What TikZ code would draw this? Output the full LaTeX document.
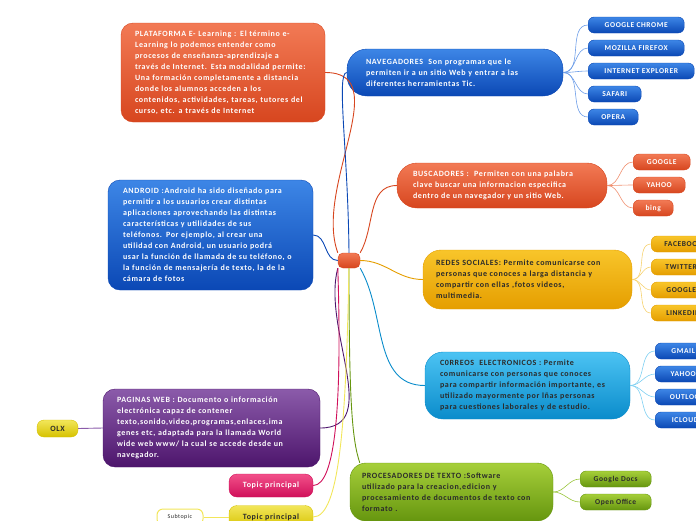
\documentclass[tikz,border=0pt]{standalone}
\usepackage{fontspec}
\setmainfont{Carlito}[LetterSpace=8]
\usetikzlibrary{positioning}

\definecolor{rojoA}{HTML}{F27A55}
\definecolor{rojoB}{HTML}{D7461F}
\definecolor{rojoC}{HTML}{F09070}
\definecolor{azulA}{HTML}{3D86E6}
\definecolor{azulB}{HTML}{0B48B5}
\definecolor{azulC}{HTML}{6E9EE8}
\definecolor{amarA}{HTML}{F8C52A}
\definecolor{amarB}{HTML}{E59E00}
\definecolor{amarC}{HTML}{F6D270}
\definecolor{celeA}{HTML}{4CC3F3}
\definecolor{celeB}{HTML}{0A8CCB}
\definecolor{celeC}{HTML}{7FD0F2}
\definecolor{verdeA}{HTML}{A6CF3A}
\definecolor{verdeB}{HTML}{66960F}
\definecolor{verdeC}{HTML}{9CC640}
\definecolor{moraA}{HTML}{8B5BAA}
\definecolor{moraB}{HTML}{4D156C}
\definecolor{rosaA}{HTML}{F2508A}
\definecolor{rosaB}{HTML}{D0105A}
\definecolor{limaA}{HTML}{F2E65A}
\definecolor{limaB}{HTML}{D6C200}
\definecolor{texto}{HTML}{2B2B2B}

\tikzset{
  tema/.style={top color=#1A, bottom color=#1B, draw=#1B, rounded corners=12pt,
    text=white, font=\bfseries\fontsize{8}{11}\selectfont, align=left, inner sep=0pt},
  hoja/.style={top color=#1A, bottom color=#1B, draw=#1B, rounded corners=6pt,
    text=white, font=\bfseries\fontsize{7.5}{8}\selectfont, minimum height=16pt,
    inner sep=0pt, anchor=west},
  rama/.style={draw=#1, line width=0.9pt},
}

\begin{document}
\begin{tikzpicture}[x=1pt,y=-1pt]
\useasboundingbox (0,0) rectangle (696,520);
%centro
\node[tema=rojo, rounded corners=5pt, minimum width=22pt, minimum height=15pt] (centro) at (349,260.5) {};
%temas
\node[tema=rojo, inner xsep=14pt, text width=176pt, minimum height=99pt] (plataforma) at (223,72.5)
  {PLATAFORMA E- Learning : El término e-\\Learning lo podemos entender como\\procesos de enseñanza-aprendizaje a\\través de Internet. Esta modalidad permite:\\Una formación completamente a distancia\\donde los alumnos acceden a los\\contenidos, actividades, tareas, tutores del\\curso, etc. a través de Internet};
\node[tema=azul, inner xsep=15pt, text width=175pt, minimum height=110pt] (android) at (210.5,235)
  {ANDROID :Android ha sido diseñado para\\permitir a los usuarios crear distintas\\aplicaciones aprovechando las distintas\\características y utilidades de sus\\teléfonos. Por ejemplo, al crear una\\utilidad con Android, un usuario podrá\\usar la función de llamada de su teléfono, o\\la función de mensajería de texto, la de la\\cámara de fotos};
\node[tema=azul, rounded corners=20pt, inner xsep=19pt, text width=178pt, minimum height=47pt] (navegadores) at (455,72.5)
  {NAVEGADORES\ \ Son programas que le\\permiten ir a un sitio Web y entrar a las\\diferentes herramientas Tic.};
\node[tema=rojo, rounded corners=20pt, inner xsep=16pt, text width=178pt, minimum height=45pt] (buscadores) at (502,185.5)
  {BUSCADORES :\ \ Permiten con una palabra\\clave buscar una informacion especifica\\dentro de un navegador y un sitio Web.};
\node[tema=amar, text=texto, rounded corners=18pt, inner xsep=13pt, text width=183pt, minimum height=59pt] (redes) at (527.5,279.5)
  {REDES SOCIALES: Permite comunicarse con\\personas que conoces a larga distancia y\\compartir con ellas ,fotos videos,\\multimedia.};
\node[tema=cele, text=texto, rounded corners=18pt, inner xsep=15pt, text width=175pt, minimum height=67pt] (correos) at (527.5,385.5)
  {C0RREOS\ \ ELECTRONICOS : Permite\\comunicarse con personas que conoces\\para compartir información importante, es\\utilizado mayormente por lñas personas\\para cuestiones laborales y de estudio.};
\node[tema=verde, text=texto, rounded corners=16pt, inner xsep=12pt, text width=179pt, minimum height=58pt] (procesadores) at (451.5,492)
  {PROCESADORES DE TEXTO :Software\\utilizado para la creacion,edicion y\\procesamiento de documentos de texto con\\formato .};
\node[tema=mora, inner xsep=14pt, text width=189pt, minimum height=78pt] (paginas) at (211.5,428)
  {PAGINAS WEB : Documento o información\\electrónica capaz de contener\\texto,sonido,video,programas,enlaces,ima\\genes etc, adaptada para la llamada World\\wide web www/ la cual se accede desde un\\navegador.};
\node[tema=rosa, rounded corners=8pt, minimum width=84pt, minimum height=23pt] (topico1) at (271,485.5) {Topic principal};
\node[tema=lima, text=texto, rounded corners=8pt, minimum width=84pt, minimum height=23pt] (topico2) at (271,517) {Topic principal};
\node[tema=lima, text=texto, rounded corners=7pt, minimum width=41pt, minimum height=17pt] (olx) at (57.5,428.5) {OLX};
\node[draw=limaA, fill=white, line width=1pt, rounded corners=6pt, minimum width=46pt, minimum height=16pt,
  inner sep=0pt, font=\fontsize{6}{7}\selectfont, text=texto] (subtopico) at (180,517) {Subtopic};
%hojas
\node[hoja=azul, minimum width=96pt] (chrome) at (588,25) {GOOGLE CHROME};
\node[hoja=azul, minimum width=96pt] (firefox) at (588,48) {MOZILLA FIREFOX};
\node[hoja=azul, minimum width=106pt] (explorer) at (588,71) {INTERNET EXPLORER};
\node[hoja=azul, minimum width=53pt] (safari) at (588,94) {SAFARI};
\node[hoja=azul, minimum width=50pt] (opera) at (588,117) {OPERA};
\node[hoja=rojo, minimum width=57pt] (google) at (633,162) {GOOGLE};
\node[hoja=rojo, minimum width=52pt] (yahoo) at (633,185) {YAHOO};
\node[hoja=rojo, minimum width=40pt] (bing) at (633,208) {bing};
\node[hoja=amar, text=texto, minimum width=64pt] (facebook) at (651,244) {FACEBOOK};
\node[hoja=amar, text=texto, minimum width=60pt] (twitter) at (651,267) {TWITTER};
\node[hoja=amar, text=texto, minimum width=60pt] (googlep) at (651,290) {GOOGLE};
\node[hoja=amar, text=texto, minimum width=64pt] (linkedin) at (651,313) {LINKEDIN};
\node[hoja=azul, minimum width=56pt] (gmail) at (655,351) {GMAIL};
\node[hoja=azul, minimum width=56pt] (yahoomail) at (655,374) {YAHOO};
\node[hoja=azul, minimum width=64pt] (outlook) at (655,397) {OUTLOOK};
\node[hoja=azul, minimum width=60pt] (icloud) at (655,420) {ICLOUD};
\node[hoja=verde, text=texto, minimum width=71pt] (docs) at (580,479) {Google Docs};
\node[hoja=verde, text=texto, minimum width=71pt] (office) at (580,502) {Open Office};
%ramas
\draw[rama=rojoB] (centro.north west) to[out=110,in=0] (plataforma.east);
\draw[rama=azulB] (centro.west) to[out=180,in=0] (android.east);
\draw[rama=azulB] (centro.north) .. controls (348,150) and (336,72.5) .. (navegadores.west);
\draw[rama=rojoB] (centro.north east) to[out=60,in=180] (buscadores.west);
\draw[rama=amarB] (centro.east) to[out=0,in=180] (redes.west);
\draw[rama=celeB] (centro.south east) to[out=-60,in=180] (correos.west);
\draw[rama=verdeB] (centro.south) .. controls (349,400) and (352,440) .. ([xshift=10pt]procesadores.north west);
\draw[rama=moraB] (centro.south west) to[out=-105,in=0] (paginas.east);
\draw[rama=rosaB] (centro.south west) .. controls (342,400) and (336,485.5) .. (topico1.east);
\draw[rama=limaA] (centro.south) .. controls (346,420) and (340,517) .. (topico2.east);
\draw[rama=moraA] (paginas.west) -- (olx.east);
\draw[rama=limaA] (topico2.west) -- (subtopico.east);
\foreach \h in {chrome,firefox,explorer,safari,opera}
  \draw[rama=azulC, line width=0.6pt] (navegadores.east) to[out=0,in=180] (\h.west);
\foreach \h in {google,yahoo,bing}
  \draw[rama=rojoC, line width=0.6pt] (buscadores.east) to[out=0,in=180] (\h.west);
\foreach \h in {facebook,twitter,googlep,linkedin}
  \draw[rama=amarC, line width=0.6pt] (redes.east) to[out=0,in=180] (\h.west);
\foreach \h in {gmail,yahoomail,outlook,icloud}
  \draw[rama=celeC, line width=0.6pt] (correos.east) to[out=0,in=180] (\h.west);
\foreach \h in {docs,office}
  \draw[rama=verdeC, line width=0.6pt] (procesadores.east) to[out=0,in=180] (\h.west);
\end{tikzpicture}
\end{document}
